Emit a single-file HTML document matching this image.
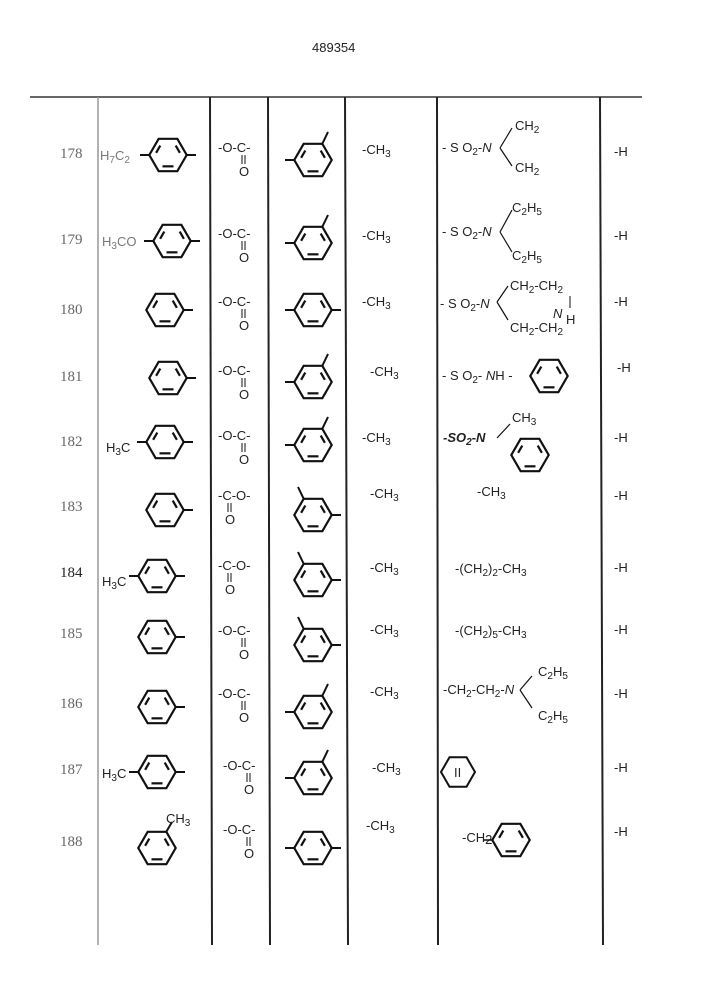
<!DOCTYPE html>
<html><head><meta charset="utf-8"><style>
html,body{margin:0;padding:0;background:#fff;width:707px;height:1000px;overflow:hidden}
svg{display:block}
text{font-family:"Liberation Sans",sans-serif;font-size:13px;fill:#222}
.n{font-family:"Liberation Serif",serif;font-size:15px;fill:#666}
.s{font-size:10px}
</style></head><body>
<svg width="707" height="1000" viewBox="0 0 707 1000">
<defs>
<g id="bz0" fill="none" stroke="#111" stroke-width="2">
<polygon points="17,0 8.5,14.7 -8.5,14.7 -17,0 -8.5,-14.7 8.5,-14.7"/>
<line x1="-5" y1="10.3" x2="5" y2="10.3"/>
<line x1="-10.8" y1="-2" x2="-7" y2="-8.6"/>
<line x1="7" y1="-8.6" x2="10.8" y2="-2"/>
</g>
<g id="bz"><g transform="scale(1.1)"><use href="#bz0"/></g></g>
<g id="p1" stroke="#111" stroke-width="2"><use href="#bz"/><line x1="-18.7" y1="0" x2="-28" y2="0"/><line x1="18.7" y1="0" x2="28" y2="0"/></g>
<g id="m1" stroke="#111" stroke-width="2"><use href="#bz"/><line x1="18.7" y1="0" x2="28" y2="0"/></g>
<g id="o3" stroke="#111" stroke-width="2"><use href="#bz"/><line x1="-18.7" y1="0" x2="-28" y2="0"/><line x1="9.3" y1="-16.2" x2="15" y2="-28"/></g>
<g id="oc" font-size="12"><text x="-22" y="0">-O-C-</text><line x1="2" y1="3" x2="2" y2="12" stroke="#111" stroke-width="1"/><line x1="5" y1="3" x2="5" y2="12" stroke="#111" stroke-width="1"/><text x="-1" y="24">O</text></g>
<g id="co" font-size="12"><text x="-22" y="0">-C-O-</text><line x1="-12" y1="3" x2="-12" y2="12" stroke="#111" stroke-width="1"/><line x1="-9" y1="3" x2="-9" y2="12" stroke="#111" stroke-width="1"/><text x="-15" y="24">O</text></g>
</defs>
<text x="312" y="52" font-size="13">489354</text>
<line x1="30" y1="97" x2="642" y2="97" stroke="#333" stroke-width="1.5"/>
<g stroke="#222" stroke-width="2">
<line x1="98" y1="97" x2="98" y2="945" stroke="#999" stroke-width="1.5"/>
<line x1="210" y1="97" x2="212" y2="945"/>
<line x1="268" y1="97" x2="270" y2="945"/>
<line x1="345" y1="97" x2="348" y2="945"/>
<line x1="437" y1="97" x2="438" y2="945"/>
<line x1="600" y1="97" x2="603" y2="945"/>
</g>
<g class="n">
<text class="n" x="60" y="158">178</text><text class="n" x="60" y="244">179</text>
<text class="n" x="60" y="314">180</text><text class="n" x="60" y="381">181</text>
<text class="n" x="60" y="446">182</text><text class="n" x="60" y="511">183</text>
<text class="n" x="60" y="577" style="fill:#222">184</text><text class="n" x="60" y="638">185</text>
<text class="n" x="60" y="708">186</text><text class="n" x="60" y="774">187</text>
<text class="n" x="60" y="846">188</text>
</g>
<text x="100" y="160" style="fill:#777">H<tspan class="s" dy="3">7</tspan><tspan dy="-3">C</tspan><tspan class="s" dy="3">2</tspan></text>
<use href="#p1" x="168" y="155"/>
<text x="102" y="246" style="fill:#777">H<tspan class="s" dy="3">3</tspan><tspan dy="-3">CO</tspan></text>
<use href="#p1" x="172" y="241"/>
<use href="#m1" x="165" y="310"/>
<use href="#m1" x="168" y="378"/>
<text x="106" y="452">H<tspan class="s" dy="3">3</tspan><tspan dy="-3">C</tspan></text>
<use href="#p1" x="165" y="442"/>
<use href="#m1" x="165" y="510"/>
<text x="102" y="586">H<tspan class="s" dy="3">3</tspan><tspan dy="-3">C</tspan></text>
<use href="#p1" x="157" y="576"/>
<use href="#m1" x="157" y="637"/>
<use href="#m1" x="157" y="707"/>
<text x="102" y="778">H<tspan class="s" dy="3">3</tspan><tspan dy="-3">C</tspan></text>
<use href="#p1" x="157" y="772"/>
<use href="#bz" x="157" y="848"/>
<line x1="166.3" y1="831.8" x2="172" y2="822" stroke="#111" stroke-width="2"/>
<text x="166" y="823">CH<tspan class="s" dy="3">3</tspan></text>
<use href="#oc" x="240" y="152"/><use href="#oc" x="240" y="238"/>
<use href="#oc" x="240" y="306"/><use href="#oc" x="240" y="375"/>
<use href="#oc" x="240" y="440"/><use href="#co" x="240" y="500"/>
<use href="#co" x="240" y="570"/><use href="#oc" x="240" y="635"/>
<use href="#oc" x="240" y="698"/><use href="#oc" x="245" y="770"/>
<use href="#oc" x="245" y="834"/>
<use href="#o3" x="313" y="160"/><use href="#o3" x="313" y="243"/>
<use href="#p1" x="313" y="310"/><use href="#o3" x="313" y="382"/>
<use href="#o3" x="313" y="445"/>
<g transform="translate(313,515) scale(-1,1)"><use href="#o3"/></g>
<g transform="translate(313,580) scale(-1,1)"><use href="#o3"/></g>
<g transform="translate(313,645) scale(-1,1)"><use href="#o3"/></g>
<use href="#o3" x="313" y="712"/><use href="#o3" x="313" y="778"/>
<use href="#p1" x="313" y="848"/>
<g>
<text x="362" y="154">-CH<tspan class="s" dy="3">3</tspan></text>
<text x="362" y="240">-CH<tspan class="s" dy="3">3</tspan></text>
<text x="362" y="306">-CH<tspan class="s" dy="3">3</tspan></text>
<text x="370" y="376">-CH<tspan class="s" dy="3">3</tspan></text>
<text x="362" y="442">-CH<tspan class="s" dy="3">3</tspan></text>
<text x="370" y="498">-CH<tspan class="s" dy="3">3</tspan></text>
<text x="370" y="572">-CH<tspan class="s" dy="3">3</tspan></text>
<text x="370" y="634">-CH<tspan class="s" dy="3">3</tspan></text>
<text x="370" y="696">-CH<tspan class="s" dy="3">3</tspan></text>
<text x="372" y="772">-CH<tspan class="s" dy="3">3</tspan></text>
<text x="366" y="830">-CH<tspan class="s" dy="3">3</tspan></text>
</g>
<g stroke="#111" stroke-width="1.2" fill="none">
<path d="M500 148 L512 128 M500 148 L512 166"/>
<path d="M500 232 L512 210 M500 232 L512 252"/>
<path d="M497 302 L508 286 M497 302 L508 320"/>
<path d="M497 438 L510 424"/>
<path d="M520 690 L532 676 M520 690 L532 708"/>
</g>
<text x="442" y="152">- S O<tspan class="s" dy="3">2</tspan><tspan dy="-3">-</tspan><tspan font-style="italic">N</tspan></text>
<text x="515" y="130">CH<tspan class="s" dy="3">2</tspan></text>
<text x="515" y="172">CH<tspan class="s" dy="3">2</tspan></text>
<text x="442" y="236">- S O<tspan class="s" dy="3">2</tspan><tspan dy="-3">-</tspan><tspan font-style="italic">N</tspan></text>
<text x="512" y="212">C<tspan class="s" dy="3">2</tspan><tspan dy="-3">H</tspan><tspan class="s" dy="3">5</tspan></text>
<text x="512" y="260">C<tspan class="s" dy="3">2</tspan><tspan dy="-3">H</tspan><tspan class="s" dy="3">5</tspan></text>
<text x="440" y="308">- S O<tspan class="s" dy="3">2</tspan><tspan dy="-3">-</tspan><tspan font-style="italic">N</tspan></text>
<text x="510" y="290">CH<tspan class="s" dy="3">2</tspan><tspan dy="-3">-CH</tspan><tspan class="s" dy="3">2</tspan></text>
<text x="553" y="318" font-style="italic">N</text><text x="566" y="324">H</text>
<text x="510" y="332">CH<tspan class="s" dy="3">2</tspan><tspan dy="-3">-CH</tspan><tspan class="s" dy="3">2</tspan></text>
<line x1="570" y1="296" x2="570" y2="308" stroke="#111"/>
<text x="442" y="380">- S O<tspan class="s" dy="3">2</tspan><tspan dy="-3">- </tspan><tspan font-style="italic">N</tspan>H -</text>
<use href="#bz" x="549" y="376"/>
<text x="443" y="442" font-style="italic" font-weight="bold">-SO<tspan class="s" dy="3">2</tspan><tspan dy="-3">-N</tspan></text>
<text x="512" y="422">CH<tspan class="s" dy="3">3</tspan></text>
<use href="#bz" x="530" y="455"/>
<text x="477" y="496">-CH<tspan class="s" dy="3">3</tspan></text>
<text x="455" y="573">-(CH<tspan class="s" dy="3">2</tspan><tspan dy="-3">)</tspan><tspan class="s" dy="3">2</tspan><tspan dy="-3">-CH</tspan><tspan class="s" dy="3">3</tspan></text>
<text x="455" y="635">-(CH<tspan class="s" dy="3">2</tspan><tspan dy="-3">)</tspan><tspan class="s" dy="3">5</tspan><tspan dy="-3">-CH</tspan><tspan class="s" dy="3">3</tspan></text>
<text x="443" y="694">-CH<tspan class="s" dy="3">2</tspan><tspan dy="-3">-CH</tspan><tspan class="s" dy="3">2</tspan><tspan dy="-3">-</tspan><tspan font-style="italic">N</tspan></text>
<text x="538" y="676">C<tspan class="s" dy="3">2</tspan><tspan dy="-3">H</tspan><tspan class="s" dy="3">5</tspan></text>
<text x="538" y="720">C<tspan class="s" dy="3">2</tspan><tspan dy="-3">H</tspan><tspan class="s" dy="3">5</tspan></text>
<polygon points="475,772 466.5,786.7 449.5,786.7 441,772 449.5,757.3 466.5,757.3" fill="none" stroke="#111" stroke-width="2"/>
<text x="454" y="777" font-size="10">II</text>
<text x="462" y="842" font-size="10">-CH<tspan dy="2">2</tspan></text>
<line x1="484" y1="840" x2="492" y2="840" stroke="#111" stroke-width="1.5"/>
<use href="#bz" x="511" y="840"/>
<g fill="#555">
<text x="614" y="156">-H</text><text x="614" y="240">-H</text><text x="614" y="306">-H</text>
<text x="617" y="372">-H</text><text x="614" y="442">-H</text><text x="614" y="500">-H</text>
<text x="614" y="572">-H</text><text x="614" y="634">-H</text><text x="614" y="698">-H</text>
<text x="614" y="772">-H</text><text x="614" y="836">-H</text>
</g>
</svg>
</body></html>
